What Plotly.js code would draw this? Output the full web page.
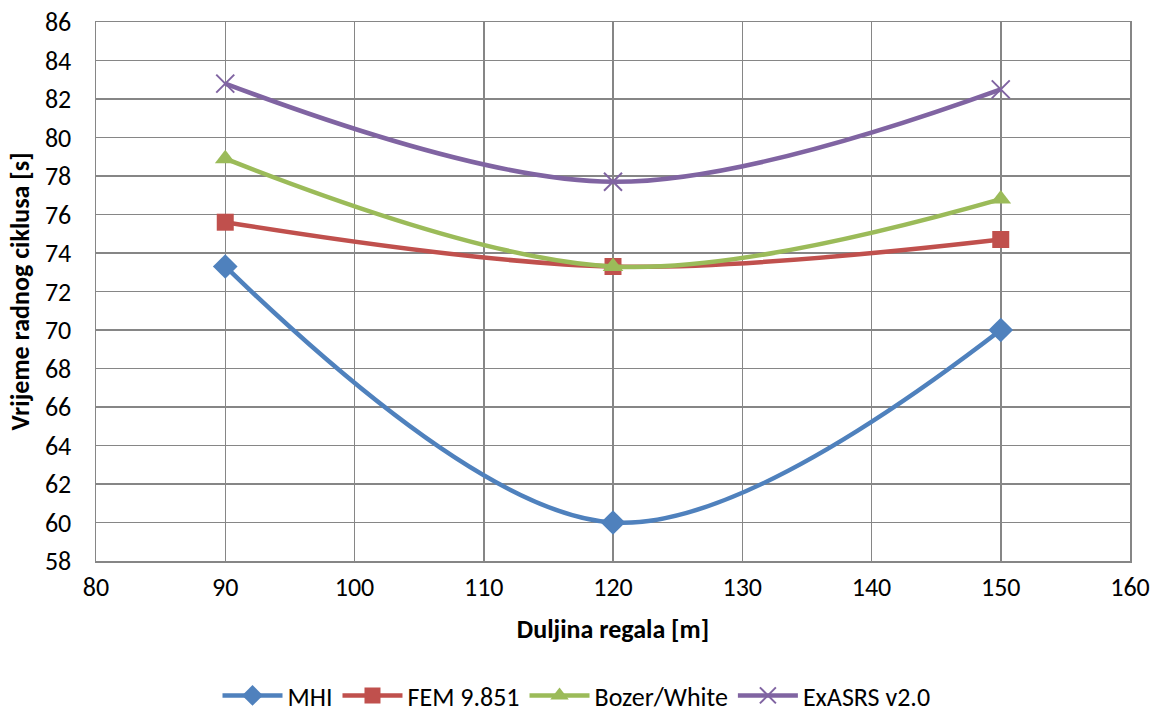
<!DOCTYPE html>
<html>
<head>
<meta charset="utf-8">
<script src="https://cdn.plot.ly/plotly-3.0.1.min.js"></script>
<style>html,body{margin:0;padding:0;background:#fff;}#chart{width:1153px;height:719px;}</style>
</head>
<body>
<div id="chart"></div>
<script>
const xValues = [90, 120, 150];
const mhi = [73.3, 60.0, 70.0];
const fem = [75.6, 73.3, 74.7];
const bozer = [78.9, 73.3, 76.8];
const exasrs = [82.8, 77.7, 82.5];
const seriesNames = ["MHI", "FEM 9.851", "Bozer/White", "ExASRS v2.0"];

const colors = ["#4F81BD", "#C0504D", "#9BBB59", "#8064A2"];
const symbols = ["diamond", "square", "triangle-up", "x-thin"];
const sizes = [19, 17, 18, 18];
const data = [mhi, fem, bozer, exasrs].map((ys, i) => ({
  x: xValues, y: ys, name: seriesNames[i], type: "scatter", mode: "lines+markers",
  line: {color: colors[i], width: 4.5, shape: "spline", smoothing: 1},
  marker: {symbol: symbols[i], size: sizes[i], color: colors[i],
           line: {color: colors[i], width: symbols[i] === "x-thin" ? 2 : 0}}
}));

const font = "Carlito, Calibri, Lato, 'Open Sans', sans-serif";
const layout = {
  width: 1153, height: 719,
  margin: {l: 96, r: 23, t: 22, b: 158, autoexpand: false},
  paper_bgcolor: "#fff", plot_bgcolor: "#fff",
  font: {family: font, size: 26, color: "#000"},
  xaxis: {range: [80, 160], dtick: 10, tick0: 80, showgrid: true, gridcolor: "#868686", gridwidth: 1.5,
          showline: true, linecolor: "#868686", linewidth: 1.5, mirror: true, zeroline: false,
          ticks: "", ticklen: 0, ticklabelstandoff: 2, automargin: false,
          title: {text: "<b>Duljina regala [m]</b>", font: {size: 26}, standoff: 18}},
  yaxis: {range: [58, 86], dtick: 2, tick0: 58, showgrid: true, gridcolor: "#868686", gridwidth: 1.5,
          showline: true, linecolor: "#868686", linewidth: 1.5, mirror: true, zeroline: false,
          ticks: "", ticklen: 0, ticklabelstandoff: 18, automargin: false,
          title: {text: "<b>Vrijeme radnog ciklusa [s]</b>", font: {size: 26}, standoff: 8}},
  showlegend: true,
  legend: {orientation: "h", x: 0.5, xanchor: "center", xref: "container",
           y: 0.0, yanchor: "bottom", yref: "container",
           font: {size: 26}, itemwidth: 60, traceorder: "normal"}
};
Plotly.newPlot("chart", data, layout, {displayModeBar: false, staticPlot: true});
</script>
</body>
</html>
